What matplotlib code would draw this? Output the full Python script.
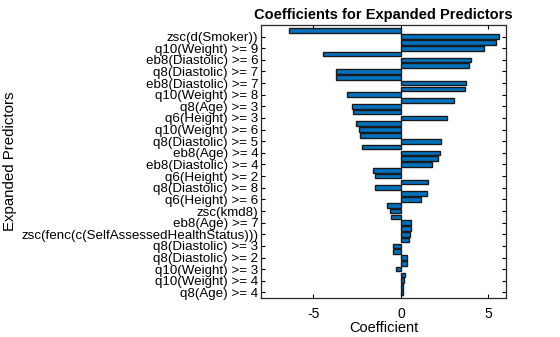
import matplotlib
matplotlib.use("Agg")
import matplotlib.pyplot as plt
import numpy as np

plt.rcParams['font.family'] = ['Liberation Sans', 'DejaVu Sans']

# coefficients, top bar first
coefs = [-6.42, 5.63, 5.45, 4.72, -4.47, 4.03, 3.88, -3.73, -3.73, 3.69,
         3.66, -3.07, 3.01, -2.82, -2.73, 2.61, -2.56, -2.39, -2.33, 2.29,
         -2.22, 2.22, 2.10, 1.76, -1.59, -1.51, 1.53, -1.46, 1.48, 1.16,
         -0.80, -0.60, -0.55, 0.59, 0.59, 0.51, 0.46, -0.43, -0.43, 0.34,
         0.34, -0.28, 0.23, 0.17, 0.11, 0.12]

# labels shown on every second bar (2, 4, ..., 46)
tick_labels = ['zsc(d(Smoker))', 'q10(Weight) >= 9', 'eb8(Diastolic) >= 6',
               'q8(Diastolic) >= 7', 'eb8(Diastolic) >= 7', 'q10(Weight) >= 8',
               'q8(Age) >= 3', 'q6(Height) >= 3', 'q10(Weight) >= 6',
               'q8(Diastolic) >= 5', 'eb8(Age) >= 4', 'eb8(Diastolic) >= 4',
               'q6(Height) >= 2', 'q8(Diastolic) >= 8', 'q6(Height) >= 6',
               'zsc(kmd8)', 'eb8(Age) >= 7',
               'zsc(fenc(c(SelfAssessedHealthStatus)))', 'q8(Diastolic) >= 3',
               'q8(Diastolic) >= 2', 'q10(Weight) >= 3', 'q10(Weight) >= 4',
               'q8(Age) >= 4']

pos = np.arange(1, len(coefs) + 1)

fig = plt.figure(figsize=(5.6, 3.37), dpi=100)
ax = fig.add_axes([0.466, 0.115, 0.4375, 0.811])

ax.barh(pos, coefs, height=0.8, color='#0072BD', edgecolor='#1a1a1a', linewidth=1.0)

ax.set_xlim(-8, 6)
ax.set_ylim(47, 0)
ax.set_xticks([-5, 0, 5])
ax.set_xticklabels(['-5', '0', '5'])
ax.set_yticks(pos[1::2])
ax.set_yticklabels(tick_labels)

ax.tick_params(axis='both', direction='in', top=True, right=True,
               length=3, width=0.8, labelsize=9.6, pad=2)
ax.tick_params(axis='x', labelsize=10, pad=6)
for s in ax.spines.values():
    s.set_linewidth(0.9)
    s.set_color('#262626')

ax.set_title('Coefficients for Expanded Predictors', fontsize=10.5,
             fontweight='bold', pad=4)
ax.set_xlabel('Coefficient', fontsize=10.5, labelpad=0)
ax.set_ylabel('Expanded Predictors', fontsize=10.8, labelpad=3)

fig.savefig('out.png', dpi=100)
